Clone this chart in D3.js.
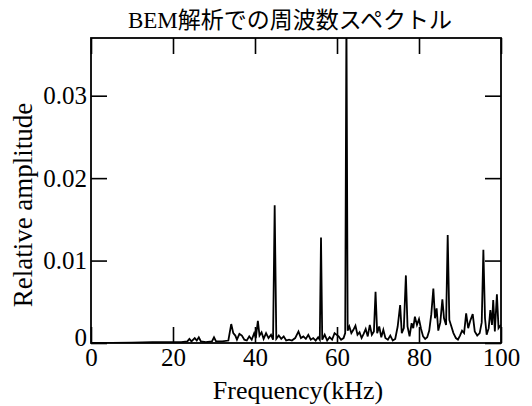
<!DOCTYPE html>
<meta charset="utf-8">
<head>
<style>
  body { margin: 0; background: #fff; }
  .axis text { font-family: "Liberation Serif", "Times New Roman", serif; font-size: 25px; fill: #000; }
  .axis line { stroke: #000; stroke-width: 1.6px; }
  .title { font-family: "Liberation Serif", "Noto Sans CJK JP", serif; font-size: 23px; }
  .label { font-family: "Liberation Serif", "Times New Roman", serif; font-size: 26px; }
</style>
</head>
<body>
<svg id="chart"></svg>
<script src="https://d3js.org/d3.v7.min.js"></script>
<script>
// spectrum: frequency (kHz) and relative amplitude
var freqKHz = [0, 5, 10, 15, 18, 22, 23.5, 24, 24.5, 25.3, 25.8, 26.3, 26.8, 28, 29.5, 30, 30.5, 32, 33.5,
  34.2, 34.7, 35.2, 35.6, 36.2, 36.8, 37.4, 38, 38.6, 39.2, 39.8, 40.2, 40.7, 41.1, 41.6, 42.1, 42.7, 43.3,
  43.9, 44.4, 44.8, 45.2, 45.8, 46.4, 47.0, 47.6, 48.3, 49.0, 49.8, 50.6, 51.2, 51.8, 52.4, 53.0, 53.6,
  54.2, 54.8, 55.4, 55.8, 56.1, 56.4, 57.0, 57.6, 58.2, 58.8, 59.4, 60.4, 61.0, 61.6, 62.0, 62.3, 62.6,
  63.0, 63.5, 64.0, 64.5, 65.0, 65.5, 66.0, 66.5, 67.0, 67.5, 68.0, 68.5, 69.0, 69.4, 69.8, 70.3, 70.8,
  71.3, 71.8, 72.4, 73.0, 73.6, 74.2, 74.8, 75.4, 75.8, 76.3, 76.8, 77.2, 77.7, 78.2, 78.6, 79.0, 79.5,
  80.0, 80.5, 81.0, 81.5, 82.0, 82.5, 83.0, 83.5, 83.9, 84.3, 84.7, 85.2, 85.7, 86.1, 86.6, 87.0, 87.4,
  87.9, 88.4, 89.0, 89.5, 90.0, 90.5, 91.0, 91.5, 92.0, 92.5, 93.1, 93.6, 94.2, 94.8, 95.3, 95.7, 96.1,
  96.5, 97.0, 97.4, 97.8, 98.1, 98.5, 99.0, 99.4, 100];
var amplitude = [0, 0, 0.00005, 0.0001, 0.0001, 0.0001, 0.0002, 0.0005, 0.0002, 0.0006, 0.0003, 0.0007, 0.0002,
  0.0001, 0.0002, 0.0007, 0.0002, 0.0002, 0.0003,
  0.0023, 0.0012, 0.0009, 0.0004, 0.0011, 0.0009, 0.0004, 0.0003, 0.0008, 0.0004, 0.0012, 0.0006, 0.0027,
  0.0009, 0.0013, 0.0005, 0.0012, 0.0006,
  0.0010, 0.0004, 0.0167, 0.0005, 0.0009, 0.0005, 0.0008, 0.0003, 0.0004, 0.0003, 0.0006, 0.0014, 0.0006,
  0.0008, 0.0005, 0.0010, 0.0004,
  0.0006, 0.0003, 0.0007, 0.0004, 0.0128, 0.0004, 0.0010, 0.0003, 0.0007, 0.0004, 0.0012, 0.0008, 0.0004,
  0.0006, 0.0012, 0.0400, 0.0015,
  0.0020, 0.0012, 0.0016, 0.0021, 0.0010, 0.0013, 0.0006, 0.0011, 0.0017, 0.0008, 0.0022, 0.0010, 0.0014,
  0.0062, 0.0012, 0.0020, 0.0007,
  0.0016, 0.0006, 0.0004, 0.0009, 0.0003, 0.0005, 0.0020, 0.0046, 0.0012, 0.0018, 0.0082, 0.0020, 0.0008,
  0.0024, 0.0018, 0.0032, 0.0022,
  0.0029, 0.0017, 0.0008, 0.0005, 0.0007, 0.0015, 0.0035, 0.0066, 0.0030, 0.0042, 0.0015, 0.0025, 0.0053,
  0.0030, 0.0022, 0.0131, 0.0028,
  0.0020, 0.0012, 0.0006, 0.0004, 0.0009, 0.0015, 0.0012, 0.0036, 0.0018, 0.0027, 0.0035, 0.0014, 0.0009,
  0.0012, 0.0025, 0.0113, 0.0030,
  0.0010, 0.0018, 0.0040, 0.0022, 0.0052, 0.0014, 0.0059, 0.0018, 0.0022];
var xTicks = [0, 20, 40, 60, 80, 100];
var yTicks = [0, 0.01, 0.02, 0.03];

var W = 532, H = 406;
var margin = {top: 38, right: 31, bottom: 63, left: 91},
    width = W - margin.left - margin.right,
    height = H - margin.top - margin.bottom;

var svg = d3.select("#chart").attr("width", W).attr("height", H);
var g = svg.append("g").attr("transform", "translate(" + margin.left + "," + margin.top + ")");

var x = d3.scaleLinear().domain([0, 100]).range([0, width]);
var y = d3.scaleLinear().domain([0, 0.037]).range([height, 0]);

var data = freqKHz.map(function(f, i) { return {f: f, a: amplitude[i]}; });

g.append("clipPath").attr("id", "clip")
  .append("rect").attr("width", width).attr("height", height);

g.append("path")
  .datum(data)
  .attr("clip-path", "url(#clip)")
  .attr("fill", "none")
  .attr("stroke", "#000")
  .attr("stroke-width", 1.8)
  .attr("d", d3.line().x(function(d) { return x(d.f); }).y(function(d) { return y(d.a); }));

var fmtY = function(d) { return d === 0 ? "0" : d3.format(".2f")(d); };

// axes with inward ticks
g.append("g").attr("class", "axis")
  .attr("transform", "translate(0," + height + ")")
  .call(d3.axisBottom(x).tickValues(xTicks).tickSize(-16).tickPadding(5))
  .call(function(s) { s.select(".domain").remove(); });
g.append("g").attr("class", "axis")
  .call(d3.axisTop(x).tickValues(xTicks).tickSize(-16).tickFormat(""))
  .call(function(s) { s.select(".domain").remove(); });
g.append("g").attr("class", "axis")
  .call(d3.axisLeft(y).tickValues(yTicks).tickSize(-16).tickPadding(4).tickFormat(fmtY))
  .call(function(s) {
    s.select(".domain").remove();
    s.selectAll(".tick text").filter(function(d) { return d === 0; }).attr("dy", "0.1em");
  });
g.append("g").attr("class", "axis")
  .attr("transform", "translate(" + width + ",0)")
  .call(d3.axisRight(y).tickValues(yTicks).tickSize(-16).tickFormat(""))
  .call(function(s) { s.select(".domain").remove(); });

// frame
g.append("rect")
  .attr("width", width).attr("height", height)
  .attr("fill", "none").attr("stroke", "#000").attr("stroke-width", 1.8);

svg.append("text").attr("class", "title")
  .attr("x", 290).attr("y", 28).attr("text-anchor", "middle")
  .text("BEM解析での周波数スペクトル");

svg.append("text").attr("class", "label")
  .attr("x", 298).attr("y", 399).attr("text-anchor", "middle")
  .text("Frequency(kHz)");

svg.append("text").attr("class", "label")
  .attr("transform", "translate(32,205) rotate(-90)")
  .attr("text-anchor", "middle")
  .style("font-size", "27px")
  .text("Relative amplitude");
</script>
</body>
